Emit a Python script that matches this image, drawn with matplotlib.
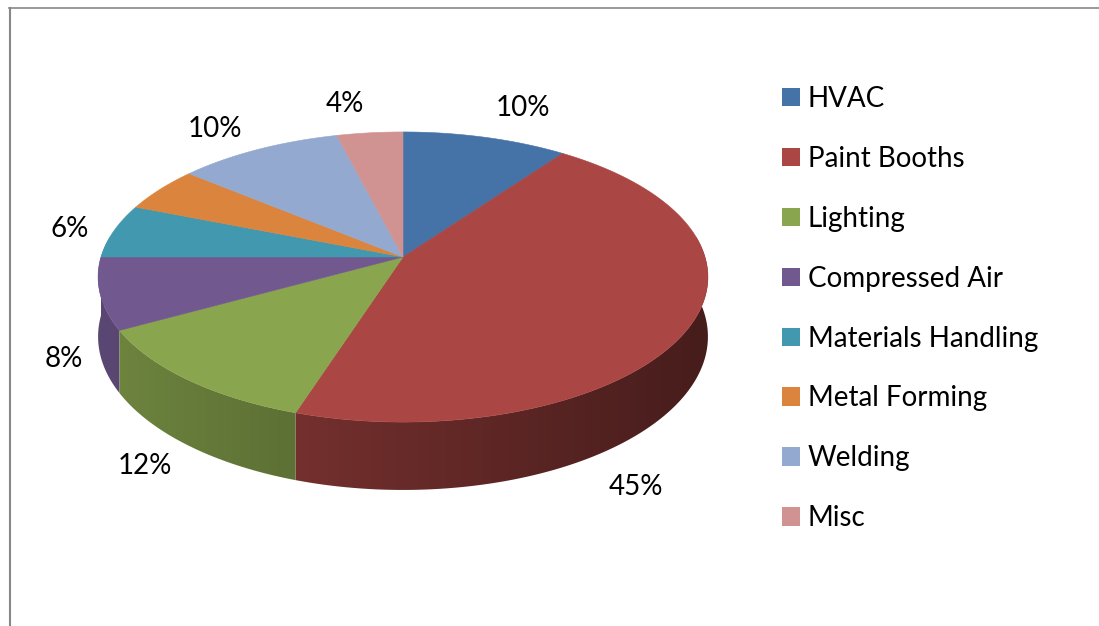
import numpy as np
import matplotlib
matplotlib.use("Agg")
import matplotlib.pyplot as plt
from matplotlib.patches import Polygon, Patch
from matplotlib.lines import Line2D
from matplotlib.colors import to_rgb

# Energy use by end-use category (percent of total)
categories = ["HVAC", "Paint Booths", "Lighting", "Compressed Air",
              "Materials Handling", "Metal Forming", "Welding", "Misc"]
shares = [10, 45, 12, 8, 6, 5, 10, 4]
show_label = [True, True, True, True, True, False, True, True]

colors = ["#4572A7", "#AA4643", "#89A54E", "#71588F",
          "#4198AF", "#DB843D", "#93A9CF", "#D19392"]

# where each percentage label sits (pixels)
label_xy = [(523, 108), (636, 487), (145, 466), (64, 359),
            (70, 229), None, (215, 129), (345, 104)]

FONT = "Lato"
FS = 20

W, H = 1099, 626
fig = plt.figure(figsize=(W / 100, H / 100), dpi=100)
ax = fig.add_axes([0, 0, 1, 1])
ax.set_xlim(0, W)
ax.set_ylim(H, 0)
ax.axis("off")

# tilted-disc projection with a little perspective
CX, CY = 403, 257
A, B, K = 302, 142.3, 0.138
DEPTH = 58.5


def project(theta, drop=0.0):
    X = np.sin(theta)
    Y = -np.cos(theta)
    w = 1 - K * Y
    return CX + A * X / w, CY + (B * Y + drop) / w


total = float(sum(shares))
edges = np.concatenate([[0.0], np.cumsum(shares) / total]) * 2 * np.pi

# horizontal light falloff across the rim (lighter on the left)
gx = np.linspace(CX - A - 10, CX + A + 10, 600)
shade = np.clip(0.61 - 0.195 * (gx - CX) / A, 0, 1)
rim_top, rim_bot = CY - 20, CY + 260

# outer rim: one clipped gradient per wedge, back wedges first
wedge_order = np.argsort([-np.cos(0.5 * (edges[i] + edges[i + 1]))
                          for i in range(len(shares))])
for i in wedge_order:
    th = np.linspace(edges[i], edges[i + 1], 300)
    xt, yt = project(th)
    xb, yb = project(th[::-1], DEPTH)
    outline = list(zip(xt, yt)) + list(zip(xb, yb))
    poly = Polygon(outline, closed=True, facecolor="none", edgecolor="none")
    ax.add_patch(poly)
    base = np.array(to_rgb(colors[i]))
    img = np.clip(shade[None, :, None] * base[None, None, :], 0, 1)
    im = ax.imshow(img, extent=(gx[0], gx[-1], rim_bot, rim_top),
                   aspect="auto", interpolation="bilinear", zorder=1)
    im.set_clip_path(poly)

# top face wedges
for i, c in enumerate(colors):
    th = np.linspace(edges[i], edges[i + 1], 200)
    xs, ys = project(th)
    pts = [(CX, CY)] + list(zip(xs, ys))
    ax.add_patch(Polygon(pts, closed=True, facecolor=c, edgecolor=c,
                         linewidth=0.4, zorder=2))

ax.set_xlim(0, W)
ax.set_ylim(H, 0)

# percentage labels
for v, pos, show in zip(shares, label_xy, show_label):
    if show and pos is not None:
        ax.text(pos[0], pos[1], f"{v}%", ha="center", va="center",
                fontsize=FS, family=FONT, color="black", zorder=3)

# legend
handles = [Patch(facecolor=c, edgecolor="none") for c in colors]
fpx = FS * 100 / 72
fig.legend(handles, categories, loc="upper left",
           bbox_to_anchor=(782 / W, 1 - 86 / H), frameon=False,
           prop={"family": FONT, "size": FS},
           handlelength=18 / fpx, handleheight=18 / fpx,
           handletextpad=8 / fpx, labelspacing=1.22,
           borderaxespad=0, borderpad=0)

# chart-area frame
fig.add_artist(Line2D([9 / W, 1], [1 - 8 / H, 1 - 8 / H], color="#878787",
                      linewidth=1.2, transform=fig.transFigure))
fig.add_artist(Line2D([10 / W, 10 / W], [0, 1 - 8 / H], color="#878787",
                      linewidth=1.5, transform=fig.transFigure))

fig.savefig("out.png", dpi=100)
